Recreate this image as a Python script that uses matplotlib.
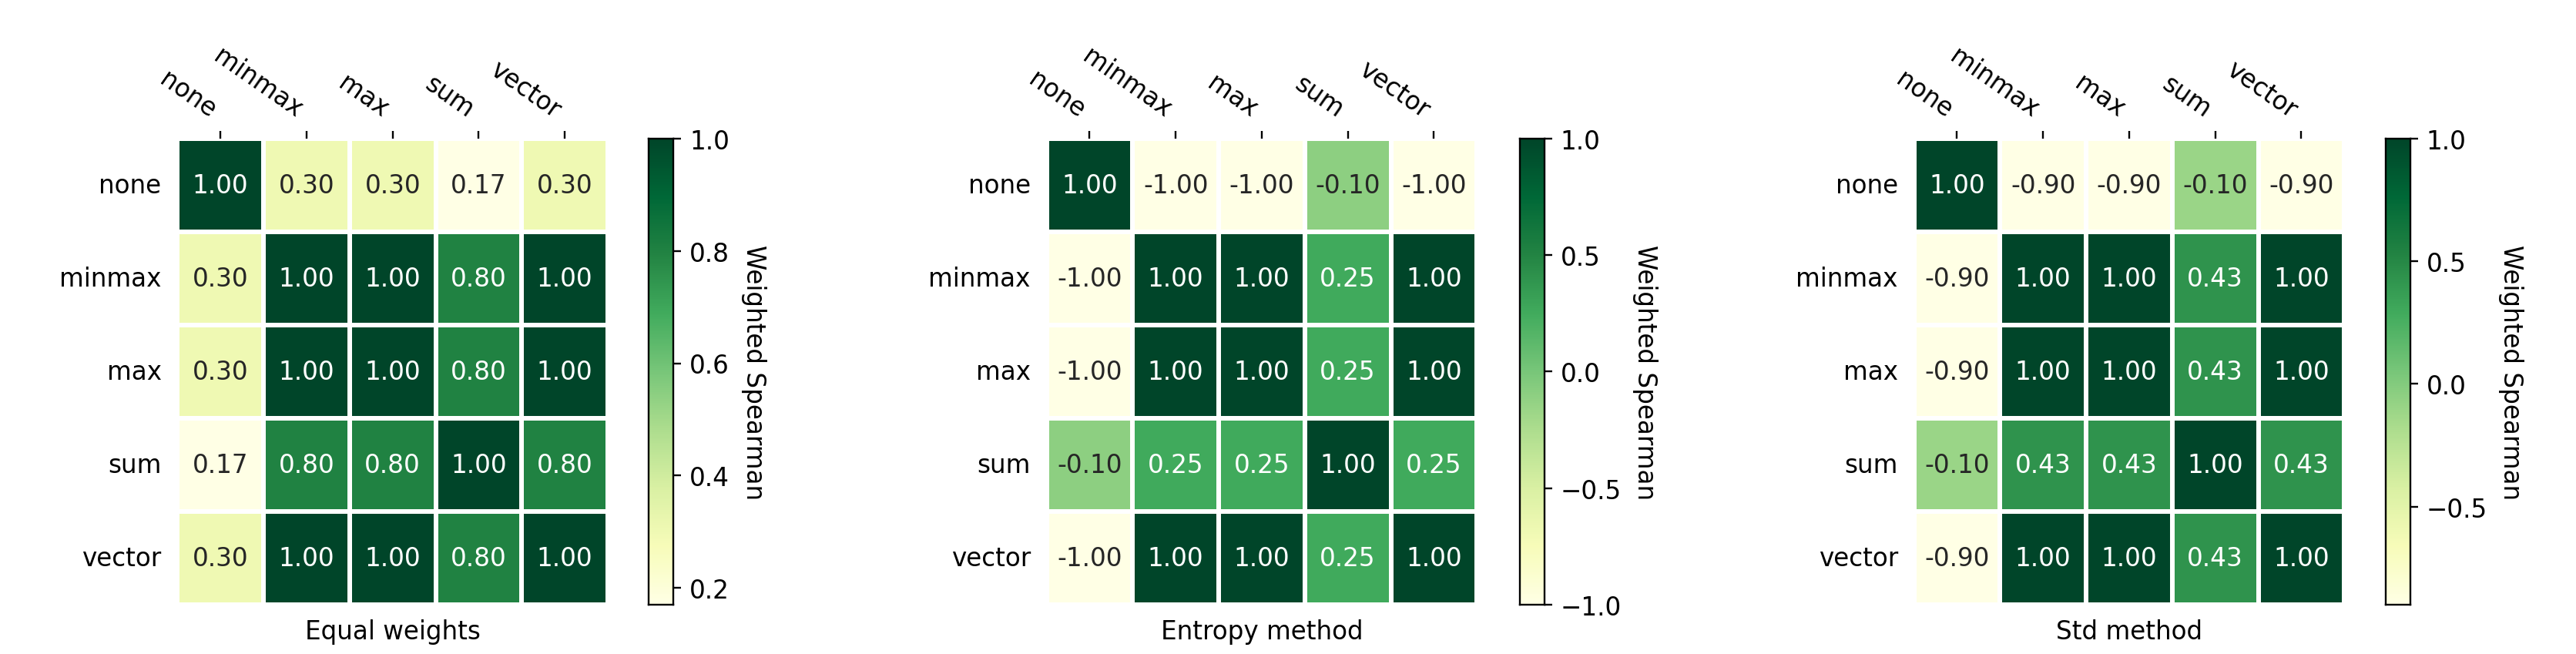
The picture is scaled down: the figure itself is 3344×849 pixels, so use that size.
import matplotlib
matplotlib.use("Agg")
import matplotlib.pyplot as plt
import matplotlib.ticker as mticker
import seaborn as sns
import numpy as np

labels = ["none", "minmax", "max", "sum", "vector"]
titles = ["Equal weights", "Entropy method", "Std method"]
equal = [[1.00, 0.30, 0.30, 0.17, 0.30],
         [0.30, 1.00, 1.00, 0.80, 1.00],
         [0.30, 1.00, 1.00, 0.80, 1.00],
         [0.17, 0.80, 0.80, 1.00, 0.80],
         [0.30, 1.00, 1.00, 0.80, 1.00]]
entropy = [[1.00, -1.00, -1.00, -0.10, -1.00],
           [-1.00, 1.00, 1.00, 0.25, 1.00],
           [-1.00, 1.00, 1.00, 0.25, 1.00],
           [-0.10, 0.25, 0.25, 1.00, 0.25],
           [-1.00, 1.00, 1.00, 0.25, 1.00]]
std = [[1.00, -0.90, -0.90, -0.10, -0.90],
       [-0.90, 1.00, 1.00, 0.43, 1.00],
       [-0.90, 1.00, 1.00, 0.43, 1.00],
       [-0.10, 0.43, 0.43, 1.00, 0.43],
       [-0.90, 1.00, 1.00, 0.43, 1.00]]
cbar_steps = [0.2, 0.5, 0.5]

W, H = 1568, 400
fig = plt.figure(figsize=(15.68, 3.985), dpi=213.27)
hx = [108, 637, 1165]
cx = [395, 925, 1452]
fs = 11
for i, data in enumerate([equal, entropy, std]):
    ax = fig.add_axes([hx[i] / W, 1 - 370 / H, 262 / W, 285 / H])
    cax = fig.add_axes([cx[i] / W, 1 - 370 / H, 15 / W, 285 / H])
    sns.heatmap(np.array(data), ax=ax, cbar_ax=cax, cmap="YlGn", annot=True, fmt=".2f",
                linewidths=2, linecolor="white", xticklabels=labels, yticklabels=labels,
                annot_kws={"fontsize": fs})
    ax.xaxis.tick_top()
    plt.setp(ax.get_xticklabels(), rotation=-35, ha="right", va="bottom", fontsize=fs)
    plt.setp(ax.get_yticklabels(), rotation=0, fontsize=fs)
    ax.set_xlabel(titles[i], fontsize=fs, labelpad=6)
    ax.xaxis.set_label_position("bottom")
    ax.tick_params(left=False)
    cax.yaxis.set_major_locator(mticker.MultipleLocator(cbar_steps[i]))
    cax.set_ylabel("Weighted Spearman", rotation=270, labelpad=16, fontsize=fs)
    cax.tick_params(labelsize=fs)
    for s in cax.spines.values():
        s.set_visible(True)
        s.set_color("black")
fig.savefig("out.png", dpi=213.27)
